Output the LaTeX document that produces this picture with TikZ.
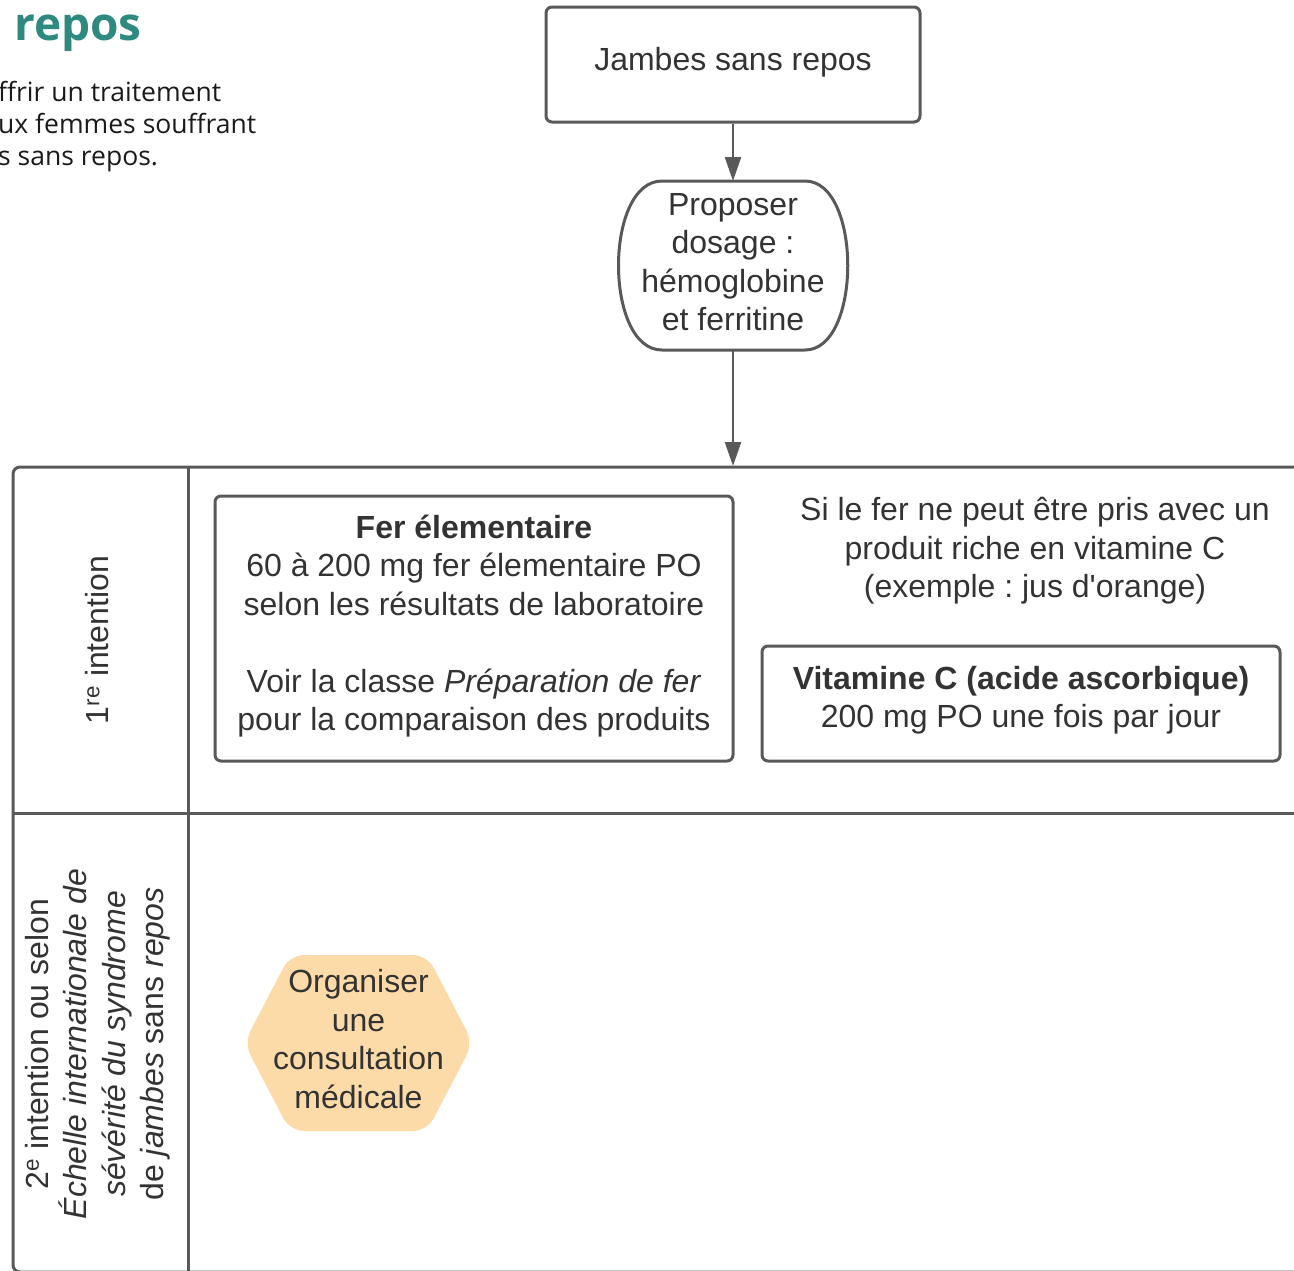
\documentclass[tikz,border=0pt]{standalone}
\usepackage{fontspec}
\setmainfont{Liberation Sans}
\newfontfamily\osans{Open Sans}
\usetikzlibrary{arrows.meta}
\definecolor{ln}{HTML}{595959}
\definecolor{tx}{HTML}{333333}
\definecolor{teal1}{HTML}{2E8A7F}
\definecolor{hexfill}{HTML}{FDDBA9}
\definecolor{para}{HTML}{1A1A1A}
\frenchspacing
\begin{document}
\begin{tikzpicture}[x=1pt,y=-1pt,
  box/.style={draw=ln, line width=3pt, rounded corners=6pt, fill=white, inner sep=0pt},
  ghost/.style={inner sep=0pt, outer sep=0pt},
  txt/.style={text=tx, font=\fontsize{32}{38.5}\selectfont, align=center, inner sep=0pt},
  arr/.style={draw=ln, line width=2.5pt, -{Triangle[width=16pt,length=24pt]}},
  lane/.style={draw=ln, line width=3pt},
  paratxt/.style={text=para, font=\osans\fontsize{26.5}{32}\selectfont, anchor=base west, inner sep=0pt}]
\useasboundingbox (0,0) rectangle (1294,1270);
\clip (0,0) rectangle (1294,1270);

% header
\node[font=\osans\bfseries\fontsize{46}{52}\selectfont, text=teal1, anchor=base west, inner sep=0pt] (title) at (14,40) {repos};
\node[paratxt] (p1) at (-2,101) {ffrir un traitement};
\node[paratxt] (p2) at (-2,133) {ux femmes souffrant};
\node[paratxt] (p3) at (-2,165) {s sans repos.};

% swimlanes
\draw[lane, rounded corners=7pt] (1330,467) -- (13,467) -- (13,1272) -- (1330,1272);
\draw[lane] (188,467) -- (188,1274);
\draw[lane] (13,813) -- (1330,813);
\coordinate (lanetop) at (733,466);

\node[txt, rotate=90] (l1) at (97,640) {1\textsuperscript{re} intention};
\node[txt, rotate=90] (l2) at (97.5,1044) {2\textsuperscript{e} intention ou selon\\ \textit{Échelle internationale de}\\ \textit{sévérité du syndrome}\\ de \textit{jambes} sans \textit{repos}};

% top box
\node[box, minimum width=374pt, minimum height=115pt] (jambes) at (733,64.5) {};
\node[txt] (jambestxt) at (733,62) {Jambes sans repos};

% proposer shape
\node[ghost, minimum width=230pt, minimum height=169pt] (prop) at (733,265.5) {};
\draw[draw=ln, line width=3pt, fill=white] (662,181) -- (805,181) .. controls (862,181) and (862,350) .. (805,350) -- (662,350) .. controls (604,350) and (604,181) .. (662,181) -- cycle;
\node[txt] (proptxt) at (733,262) {Proposer\\ dosage :\\ hémoglobine\\ et ferritine};

\draw[arr] (jambes.south) -- (prop.north);
\draw[arr] (prop.south) -- (lanetop);

% fer box
\node[box, minimum width=518pt, minimum height=265pt] (ferbox) at (474,628.5) {};
\node[txt] (fer) at (474,626) {\textbf{Fer élementaire}\\ 60 à 200 mg fer élementaire PO\\ selon les résultats de laboratoire\\[38.5pt] Voir la classe \textit{Préparation de fer}\\ pour la comparaison des produits};

% si le fer
\node[txt] (sifer) at (1035,551) {Si le fer ne peut être pris avec un\\ produit riche en vitamine C\\ (exemple : jus d\textquotesingle orange)};

% vitamine box
\node[box, minimum width=518pt, minimum height=115pt] (vitbox) at (1021,703.5) {};
\node[txt] (vit) at (1021,700) {\textbf{Vitamine C (acide ascorbique)}\\ 200 mg PO une fois par jour};

% hexagon
\fill[hexfill, rounded corners=14pt] (244,1043) -- (290,955) -- (427,955) -- (473,1043) -- (427,1131) -- (290,1131) -- cycle;
\node[txt] (hex) at (358.5,1039) {Organiser\\ une\\ consultation\\ médicale};
\end{tikzpicture}
\end{document}
